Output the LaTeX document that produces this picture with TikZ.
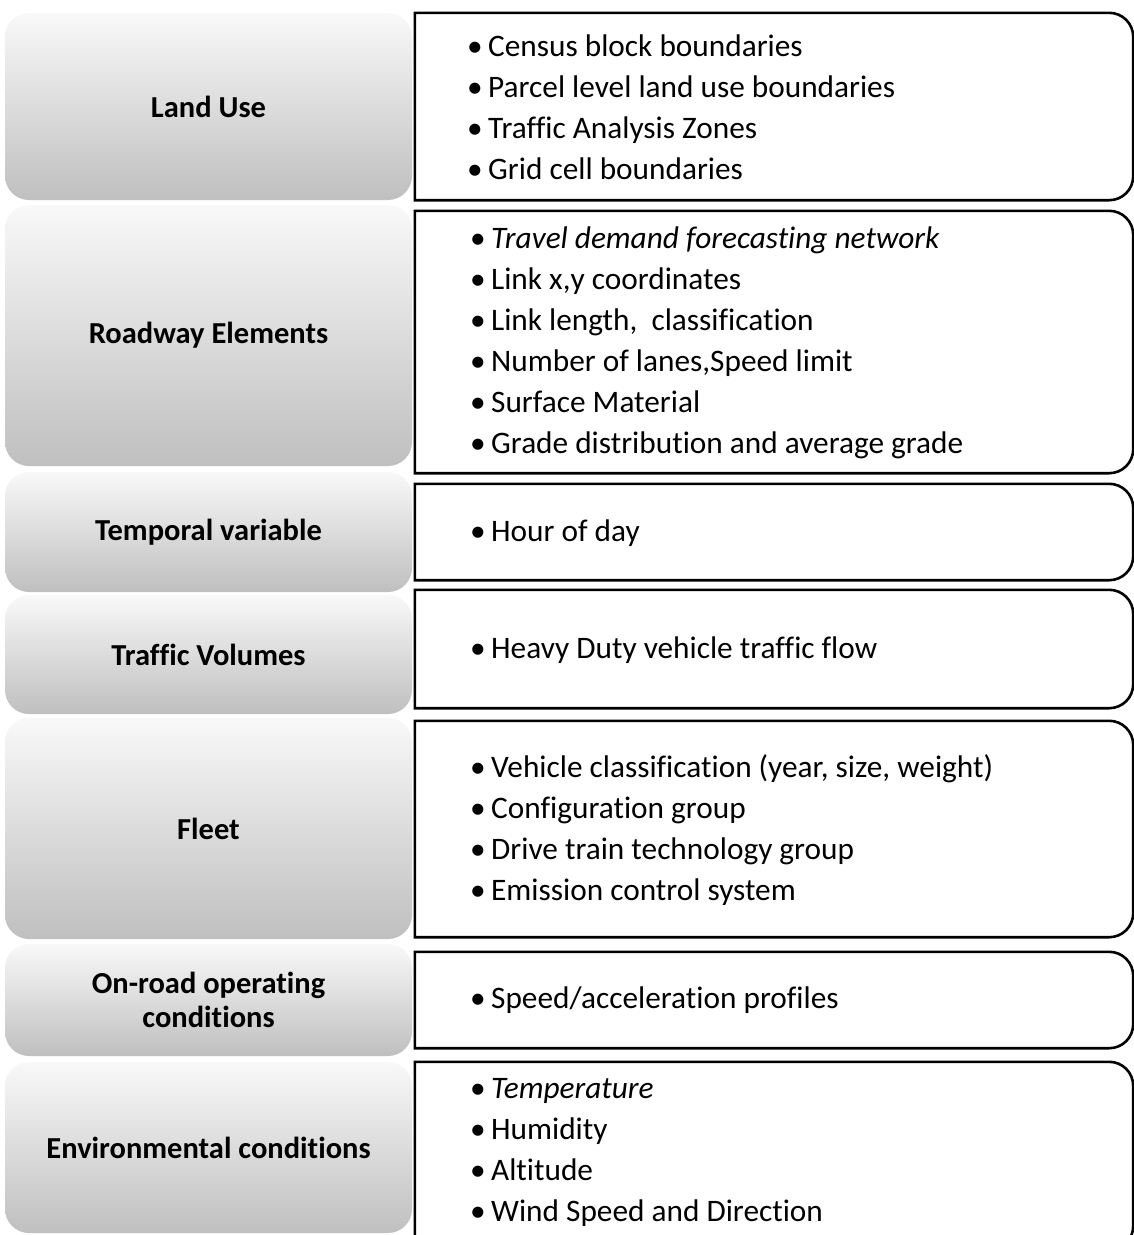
\documentclass[tikz,border=0pt]{standalone}
\usepackage{fontspec}
\setmainfont{Carlito}[Ligatures={NoCommon}]
\begin{document}
\begin{tikzpicture}[x=1pt,y=-1pt,
  lbox/.style={rounded corners=24pt, top color=gray!5, bottom color=gray!50, draw=none,
    inner sep=0pt, font=\fontsize{30.5}{34}\selectfont\bfseries, align=center},
  rarea/.style={inner sep=0pt, minimum width=718pt},
  rline/.style={line width=2.6pt, black},
  btext/.style={anchor=west, align=left, inner sep=0pt, font=\fontsize{31.3}{41}\selectfont},
]
\newcommand{\bul}{\makebox[21pt][l]{•}}
\newcommand{\rboxdraw}[1]{\draw[rline] (#1.south west) -- (#1.north west) -- ([xshift=-24pt]#1.north east) arc[start angle=90,end angle=0,radius=24pt] -- ([yshift=24pt]#1.south east) arc[start angle=0,end angle=-90,radius=24pt] -- cycle;}
\useasboundingbox (0,0) rectangle (1134,1235);
\fill[white] (0,0) rectangle (1134,1235);

% left boxes
\node[lbox, minimum width=407pt, minimum height=187pt] (l1) at (208.5,106.5) {Land Use};
\node[lbox, minimum width=407pt, minimum height=261pt] (l2) at (208.5,335.5) {Roadway Elements};
\node[lbox, minimum width=407pt, minimum height=120pt] (l3) at (208.5,532) {Temporal variable};
\node[lbox, minimum width=407pt, minimum height=119pt] (l4) at (208.5,654.5) {Traffic Volumes};
\node[lbox, minimum width=407pt, minimum height=221pt] (l5) at (208.5,828.5) {Fleet};
\node[lbox, minimum width=407pt, minimum height=112pt] (l6) at (208.5,1000) {On-road operating\\conditions};
\node[lbox, minimum width=407pt, minimum height=171pt] (l7) at (208.5,1147.5) {Environmental conditions};

% right boxes
\node[rarea, minimum height=187pt] (r1) at (774,106.5) {};
\node[rarea, minimum height=262pt] (r2) at (774,342) {};
\node[rarea, minimum height=96pt] (r3) at (774,532) {};
\node[rarea, minimum height=118pt] (r4) at (774,649) {};
\node[rarea, minimum height=216pt] (r5) at (774,829) {};
\node[rarea, minimum height=96pt] (r6) at (774,1000) {};
\node[rarea, minimum height=188pt] (r7) at (774,1156) {};
\rboxdraw{r1}
\rboxdraw{r2}
\rboxdraw{r3}
\rboxdraw{r4}
\rboxdraw{r5}
\rboxdraw{r6}
\rboxdraw{r7}

% bullet texts
\node[btext] (t1) at (467,107) {\bul Census block boundaries\\\bul Parcel level land use boundaries\\\bul Traffic Analysis Zones\\\bul Grid cell boundaries};
\node[btext] (t2) at (470,343) {\bul\textit{Travel demand forecasting network}\\\bul Link x,y coordinates\\\bul Link length,~ classification\\\bul Number of lanes,Speed limit\\\bul Surface Material\\\bul Grade distribution and average grade};
\node[btext] (t3) at (470,533) {\bul Hour of day};
\node[btext] (t4) at (470,650) {\bul Heavy Duty vehicle traffic flow};
\node[btext] (t5) at (470,830.5) {\bul Vehicle classification (year, size, weight)\\\bul Configuration group\\\bul Drive train technology group\\\bul Emission control system};
\node[btext] (t6) at (470,1000) {\bul Speed/acceleration profiles};
\node[btext] (t7) at (470,1152) {\bul\textit{Temperature}\\\bul Humidity\\\bul Altitude\\\bul Wind Speed and Direction};
\end{tikzpicture}
\end{document}
